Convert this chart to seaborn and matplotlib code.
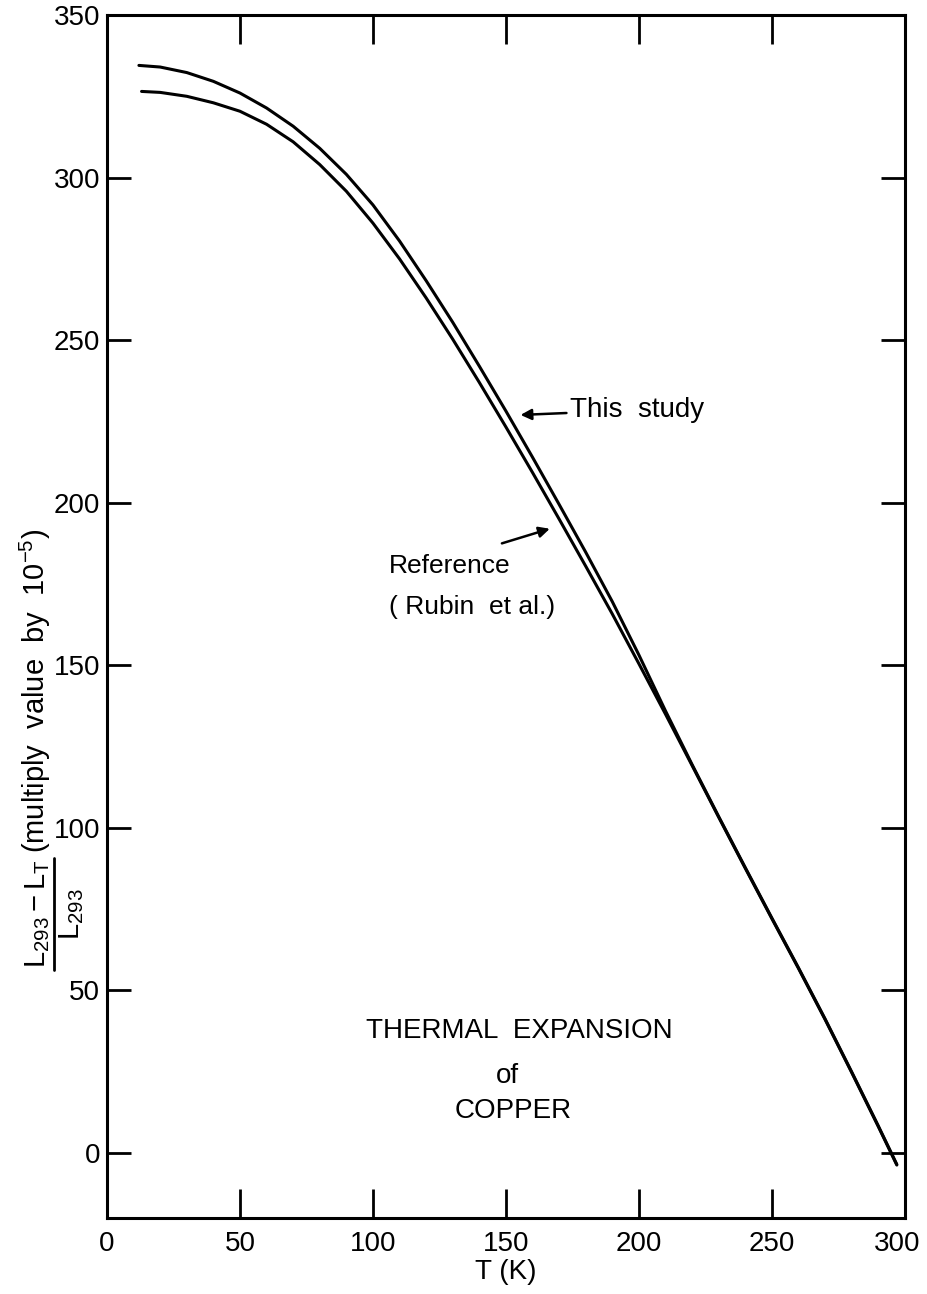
import numpy as np
import pandas as pd
import matplotlib
matplotlib.use("Agg")
import matplotlib.pyplot as plt
import matplotlib.transforms as mtransforms
from matplotlib.lines import Line2D
import seaborn as sns

# ---- data ----
t_study = [12, 20, 30, 40, 50, 60, 70, 80, 90, 100, 110, 120, 130, 140, 150, 160, 170, 180,
           190, 200, 210, 220, 230, 240, 250, 260, 270, 280, 290, 297]
v_study = [334.5, 334.0, 332.3, 329.6, 326.0, 321.4, 315.8, 309.0, 301.0, 291.6, 280.5, 268.3,
           255.5, 242.0, 228.2, 214.0, 199.5, 184.8, 169.6, 153.2, 136.0, 119.5, 103.5, 87.8,
           72.3, 57.0, 41.3, 25.0, 8.4, -3.5]

t_ref = [13, 20, 30, 40, 50, 60, 70, 80, 90, 100, 110, 120, 130, 140, 150, 160, 170, 180,
         190, 200, 210, 220, 230, 240, 250, 260, 270, 280, 290, 297]
v_ref = [326.5, 326.2, 325.0, 323.0, 320.4, 316.4, 311.0, 304.0, 295.8, 286.0, 275.0, 263.0,
         250.3, 237.0, 223.3, 209.3, 195.0, 180.5, 165.8, 150.5, 135.0, 119.2, 103.3, 87.6,
         72.1, 56.8, 41.1, 24.8, 8.2, -3.7]

x_ticks = [0, 50, 100, 150, 200, 250, 300]
y_ticks = [0, 50, 100, 150, 200, 250, 300, 350]

df = pd.concat([
    pd.DataFrame({"T": t_study, "V": v_study, "series": "This study"}),
    pd.DataFrame({"T": t_ref, "V": v_ref, "series": "Reference"}),
])

sns.set_theme(style="white")
plt.rcParams["font.family"] = ["Liberation Sans", "DejaVu Sans"]
plt.rcParams["mathtext.fontset"] = "custom"
plt.rcParams["mathtext.rm"] = "Liberation Sans"
plt.rcParams["mathtext.it"] = "Liberation Sans"
plt.rcParams["mathtext.bf"] = "Liberation Sans:bold"

W, H, DPI = 9.28, 12.94, 100
fig = plt.figure(figsize=(W, H), dpi=DPI)
ax = fig.add_axes([0.1153, 0.0587, 0.8597, 0.9297])

sns.lineplot(data=df, x="T", y="V", units="series", estimator=None,
             color="black", linewidth=2.2, sort=False, ax=ax, legend=False)

ax.set_xlim(0, 300)
ax.set_ylim(-20, 350)
ax.set_xticks(x_ticks)
ax.set_yticks(y_ticks)
ax.set_xticklabels([str(v) for v in x_ticks])
ax.set_yticklabels([str(v) for v in y_ticks])

for s in ax.spines.values():
    s.set_visible(True)
    s.set_color("black")
    s.set_linewidth(2.2)

ax.tick_params(axis="x", which="both", direction="in", length=21, width=2,
               top=True, bottom=True, labelsize=20, pad=9, colors="black")
ax.tick_params(axis="y", which="both", direction="in", length=17, width=2,
               left=True, right=True, labelsize=20, pad=5, colors="black")

# nudge the last x label inward so it stays inside the canvas
last = ax.get_xticklabels()[-1]
last.set_transform(last.get_transform() +
                   mtransforms.ScaledTranslation(-8 / 100, 0, fig.dpi_scale_trans))

ax.set_xlabel("T (K)", fontsize=20, labelpad=2, color="black")
ax.set_ylabel("")

# ---- y-axis label built as a fraction with full-size numerator/denominator ----
px = lambda x, y: (x / (W * DPI), 1 - y / (H * DPI))   # pixel (from top-left) -> figure coords
renderer = fig.canvas.get_renderer()
lab_fs = 21
num = fig.text(*px(45, 968), r"$\mathrm{L_{293}-L_T}$", fontsize=lab_fs, rotation=90,
               rotation_mode="anchor", ha="left", va="baseline", color="black")
nb = num.get_window_extent(renderer)
num_top = H * DPI - nb.y1          # top (in px from top) of numerator
num_bot = H * DPI - nb.y0
fig.text(*px(45, num_top - 7), r"(multiply  value  by  10$^{-5}$)", fontsize=lab_fs,
         rotation=90, rotation_mode="anchor", ha="left", va="baseline", color="black")
bar_x = 54
fig.add_artist(Line2D([px(bar_x, 0)[0]] * 2,
                      [px(0, num_bot + 2)[1], px(0, num_top - 2)[1]],
                      transform=fig.transFigure, color="black", lw=2))
fig.text(*px(bar_x + 3, (num_top + num_bot) / 2), r"$\mathrm{L_{293}}$", fontsize=lab_fs,
         rotation=90, rotation_mode="anchor", ha="center", va="top", color="black")

# annotations
ax.annotate("This  study", xy=(155.5, 227), xytext=(174, 228.5),
            fontsize=20, va="center", ha="left", color="black",
            arrowprops=dict(arrowstyle="-|>", color="black", lw=1.8,
                            mutation_scale=16, shrinkA=0, shrinkB=0))
ax.annotate("", xy=(166.5, 192), xytext=(148.5, 187.5),
            arrowprops=dict(arrowstyle="-|>", color="black", lw=1.8,
                            mutation_scale=16, shrinkA=0, shrinkB=0))
ax.text(106, 180.5, "Reference", fontsize=19, ha="left", va="center", color="black")
ax.text(106, 168, "( Rubin  et al.)", fontsize=19, ha="left", va="center", color="black")

ax.text(155, 37.5, "THERMAL  EXPANSION", fontsize=20, ha="center", va="center", color="black")
ax.text(150.7, 23.7, "of", fontsize=20, ha="center", va="center", color="black")
ax.text(152.6, 13.0, "COPPER", fontsize=20, ha="center", va="center", color="black")

fig.savefig("out.png", dpi=DPI, facecolor="white")
